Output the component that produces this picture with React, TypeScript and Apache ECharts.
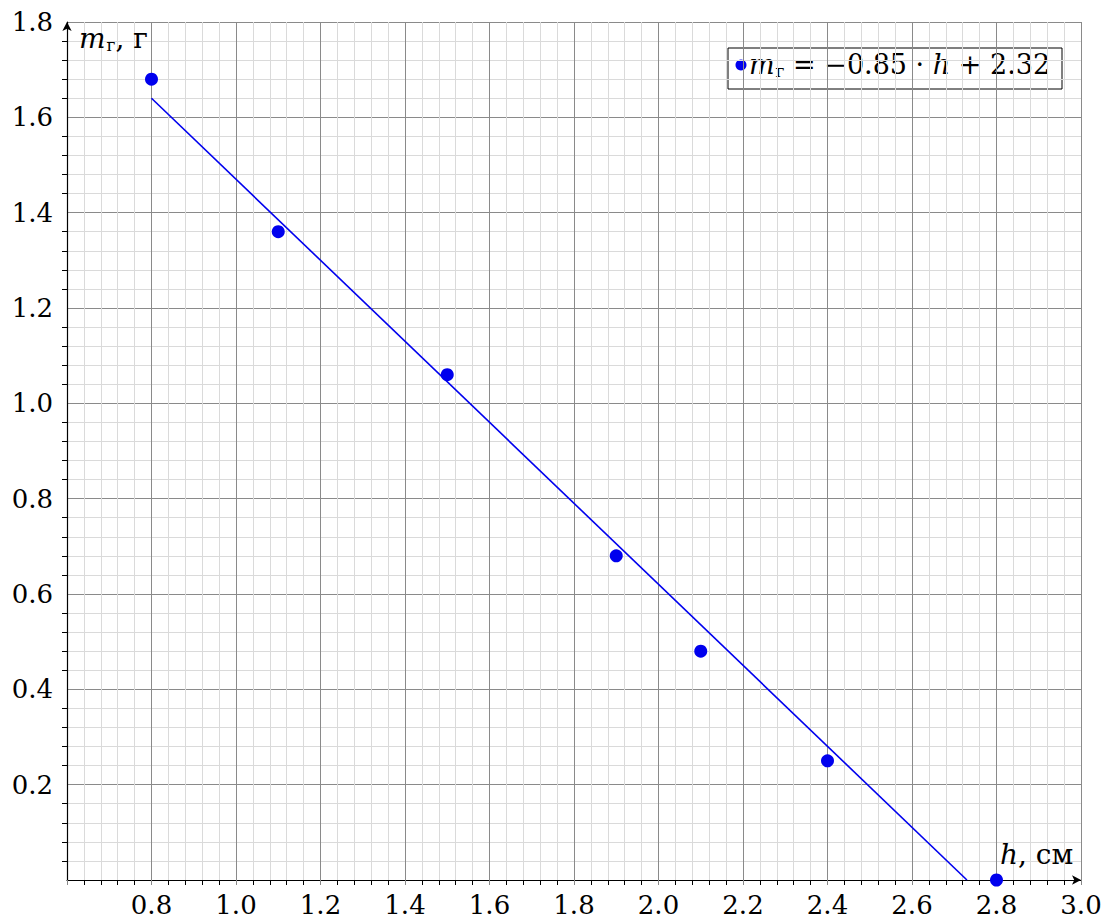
import React, { useEffect, useRef } from "react";
import * as echarts from "echarts";

const hValues = [0.8, 1.1, 1.5, 1.9, 2.1, 2.4, 2.8];
const mValues = [1.68, 1.36, 1.06, 0.68, 0.48, 0.25, 0.0];
const fitH = [0.8, 2.73];
const fitM = [1.64, 0.0];
const xTickMin = 0.6;
const xTickMax = 3.0;
const yTickMin = 0;
const yTickMax = 1.8;
const tickStep = 0.2;

const FONT = "DejaVu Serif";
const BLUE = "#0000ee";

export default function App() {
  const ref = useRef<HTMLDivElement>(null);
  useEffect(() => {
    if (!ref.current) return;
    const chart = echarts.init(ref.current, undefined, { renderer: "svg" });
    const scatterData = hValues.map((h, i) => [h, mValues[i]]);
    const fitData = fitH.map((h, i) => [h, fitM[i]]);
    const mk = (size: number) => {
      const main = { fontFamily: FONT, fontSize: size, fill: "#000", lineHeight: 32, verticalAlign: "middle" };
      const ital = { ...main, fontStyle: "italic" };
      const sub = { fontFamily: FONT, fontSize: Math.round(size * 0.62), fill: "#000", lineHeight: 32, verticalAlign: "middle", padding: [13, 0, 0, 1] };
      return { main, ital, sub };
    };
    const nameStyle = mk(28);
    const legStyle = mk(27);
    chart.setOption({
      animation: false,
      textStyle: { fontFamily: FONT },
      grid: { left: 67, top: 22, right: 28, bottom: 42, containLabel: false },
      xAxis: {
        type: "value",
        min: xTickMin,
        max: xTickMax,
        interval: tickStep,
        axisLine: {
          show: true,
          onZero: false,
          symbol: ["none", "arrow"],
          symbolSize: [7, 9],
          lineStyle: { color: "#000", width: 1.2 },
        },
        axisTick: { show: true, length: 5, lineStyle: { color: "#888" } },
        minorTick: { show: true, splitNumber: 5, length: 5, lineStyle: { color: "#000" } },
        splitLine: { show: true, lineStyle: { color: "#8a8a8a", width: 1 } },
        minorSplitLine: { show: true, lineStyle: { color: "#dadada", width: 1 } },
        axisLabel: {
          margin: 12,
          fontFamily: FONT,
          fontSize: 26,
          color: "#000",
          formatter: (v: number) => (Math.abs(v - xTickMin) < 1e-6 ? "" : v.toFixed(1)),
        },
      },
      yAxis: {
        type: "value",
        min: yTickMin,
        max: yTickMax,
        interval: tickStep,
        axisLine: {
          show: true,
          onZero: false,
          symbol: ["none", "arrow"],
          symbolSize: [7, 9],
          lineStyle: { color: "#000", width: 1.2 },
        },
        axisTick: { show: false },
        minorTick: { show: true, splitNumber: 5, length: 5, inside: true, lineStyle: { color: "#000" } },
        splitLine: { show: true, lineStyle: { color: "#8a8a8a", width: 1 } },
        minorSplitLine: { show: true, lineStyle: { color: "#dadada", width: 1 } },
        axisLabel: {
          margin: 14,
          fontFamily: FONT,
          fontSize: 26,
          color: "#000",
          formatter: (v: number) => (Math.abs(v - yTickMin) < 1e-6 ? "" : v.toFixed(1)),
        },
      },
      series: [
        {
          type: "line",
          data: fitData,
          symbol: "none",
          lineStyle: { color: BLUE, width: 1.6 },
          silent: true,
          z: 3,
        },
        {
          type: "scatter",
          data: scatterData,
          symbol: "circle",
          symbolSize: 13,
          itemStyle: { color: BLUE, opacity: 1 },
          clip: false,
          z: 4,
        },
      ],
      graphic: [
        {
          type: "text",
          x: 79,
          y: 38,
          z: 10,
          style: {
            text: "{m|m}{s|г}{n|, г}",
            verticalAlign: "middle",
            fontFamily: FONT,
            fontSize: 28,
            rich: { m: nameStyle.ital, s: nameStyle.sub, n: nameStyle.main },
          },
        },
        {
          type: "text",
          x: 1000,
          y: 854,
          z: 10,
          style: {
            text: "{h|h}{n|, см}",
            verticalAlign: "middle",
            fontFamily: FONT,
            fontSize: 28,
            rich: { h: nameStyle.ital, n: nameStyle.main },
          },
        },
        {
          type: "group",
          x: 728,
          y: 48,
          z: 10,
          children: [
            {
              type: "rect",
              shape: { x: 0, y: 0, width: 334, height: 41 },
              style: { fill: "#fff", stroke: "#000", lineWidth: 1 },
            },
            {
              type: "circle",
              shape: { cx: 13, cy: 17, r: 5.5 },
              style: { fill: BLUE },
            },
            {
              type: "text",
              x: 21,
              y: 16,
              style: {
                text: "{m|m}{s|г}{n| = −0.85 · }{m|h}{n| + 2.32}",
                verticalAlign: "middle",
                fontFamily: FONT,
                fontSize: 27,
                rich: { m: legStyle.ital, s: legStyle.sub, n: legStyle.main },
              },
            },
          ],
        },
      ],
    });
    return () => chart.dispose();
  }, []);
  return (
    <div
      ref={ref}
      style={{ position: "fixed", left: 0, top: 0, width: 1109, height: 922, background: "#fff" }}
    />
  );
}
